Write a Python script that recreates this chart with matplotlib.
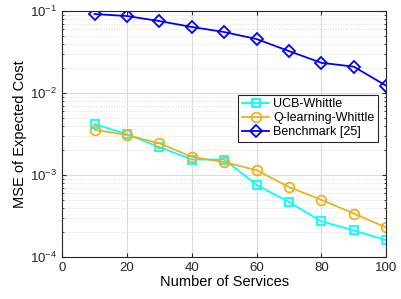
import numpy as np
import matplotlib
matplotlib.use("Agg")
import matplotlib.pyplot as plt
from matplotlib.ticker import LogLocator, NullFormatter

# values
services = [10, 20, 30, 40, 50, 60, 70, 80, 90, 100]
ucb = [4.2e-3, 3.15e-3, 2.2e-3, 1.55e-3, 1.55e-3, 7.6e-4, 4.7e-4, 2.73e-4, 2.12e-4, 1.61e-4]
qlearn = [3.57e-3, 3.08e-3, 2.44e-3, 1.67e-3, 1.44e-3, 1.15e-3, 7.15e-4, 5.0e-4, 3.4e-4, 2.3e-4]
bench = [0.092, 0.087, 0.0755, 0.064, 0.0555, 0.0456, 0.0325, 0.0234, 0.021, 0.0123]

plt.rcParams['font.family'] = ['Liberation Sans', 'DejaVu Sans']

fig = plt.figure(figsize=(4.01, 2.99), dpi=100)
ax = fig.add_axes([0.155, 0.14, 0.808, 0.823])

ax.plot(services, ucb, '-s', color=(0, 1, 1), lw=1.3, ms=6, mfc='none', mew=1.3, label='UCB-Whittle')
ax.plot(services, qlearn, '-o', color=(0.929, 0.694, 0.125), lw=1.3, ms=7, mfc='none', mew=1.3, label='Q-learning-Whittle')
ax.plot(services, bench, '-D', color=(0, 0, 1), lw=1.3, ms=6, mfc='none', mew=1.3, label='Benchmark [25]')

ax.set_yscale('log')
ax.set_xlim(0, 100)
ax.set_ylim(1e-4, 1e-1)
ax.set_xticks([0, 20, 40, 60, 80, 100])
ax.yaxis.set_major_locator(LogLocator(base=10, numticks=10))
ax.yaxis.set_minor_locator(LogLocator(base=10, subs=np.arange(2, 10), numticks=20))
ax.yaxis.set_minor_formatter(NullFormatter())

ax.grid(True, which='major', color='#dcdcdc', lw=0.8)
ax.grid(True, which='minor', axis='y', color='#dcdcdc', lw=0.7, ls=':')
ax.set_axisbelow(True)

ax.tick_params(which='both', direction='in', top=True, right=True, labelsize=9.5, colors='#262626')
ax.tick_params(which='major', length=3)
ax.tick_params(which='minor', length=1.5)
for s in ax.spines.values():
    s.set_color('#262626')
    s.set_linewidth(0.8)

ax.set_xlabel('Number of Services', fontsize=10.5, labelpad=1)
ax.set_ylabel('MSE of Expected Cost', fontsize=10.5, labelpad=2)

leg = ax.legend(loc='upper right', bbox_to_anchor=(0.975, 0.66), fontsize=9, fancybox=False,
                edgecolor='#262626', framealpha=1, borderpad=0.3, labelspacing=0.15,
                handlelength=2.2, handletextpad=0.3, borderaxespad=0)
leg.get_frame().set_linewidth(0.8)

fig.savefig('out.png', dpi=100)
